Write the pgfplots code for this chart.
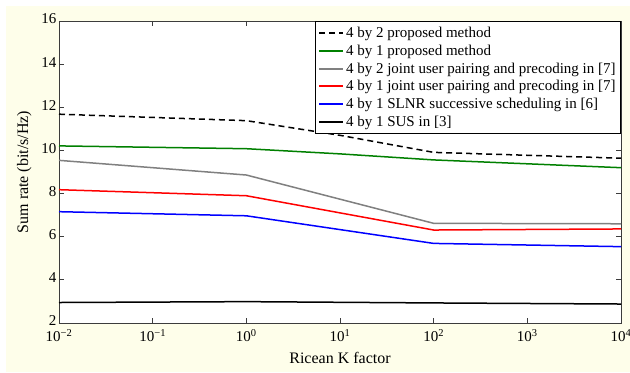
\documentclass[border=0pt]{standalone}
\usepackage{pgfplots}
\pgfplotsset{compat=1.18}
\usepackage{fontspec}
\setmainfont{Liberation Serif}
\definecolor{cream}{RGB}{254,254,234}
\definecolor{mgreen}{RGB}{0,128,0}
\definecolor{mgray}{RGB}{128,128,128}
\definecolor{axgray}{RGB}{60,60,60}
\newcommand\tickfont{\fontsize{15bp}{17bp}\selectfont}
\newcommand\labfont{\fontsize{16bp}{18bp}\selectfont}
\newcommand\legfont{\fontsize{15bp}{16bp}\selectfont}
\begin{document}
\begin{tikzpicture}[x=1bp,y=1bp]
\fill[cream] (6,0) rectangle (630,366);
\path[use as bounding box] (0,0) rectangle (630,372);
\begin{axis}[
  at={(59bp,49bp)}, anchor=south west,
  scale only axis, width=562bp, height=302bp,
  xmode=log, xmin=1e-2, xmax=1e4, ymin=2, ymax=16,
  xtick={1e-2,1e-1,1,10,100,1000,10000},
  xticklabels={10\textsuperscript{−2},10\textsuperscript{−1},10\textsuperscript{0},10\textsuperscript{1},10\textsuperscript{2},10\textsuperscript{3},10\textsuperscript{4}},
  xminorticks=false,
  ytick={2,4,...,16},
  /pgf/number format/assume math mode=true,
  tick align=inside, major tick length=5bp,
  tick style={axgray, line width=0.8bp},
  axis line style={axgray, line width=0.9bp},
  axis background/.style={fill=white},
  ticklabel style={font=\tickfont},
  xticklabel style={yshift=-3bp},
  yticklabel style={xshift=1bp, yshift=2bp},
  label style={font=\labfont},
  xlabel={Ricean K factor},
  ylabel={Sum rate (bit/s/Hz)},
  xlabel style={yshift=-4bp},
  ylabel style={yshift=3bp},
  legend style={at={(1,1)}, anchor=north east, draw=black, line width=0.8bp, fill=white,
    font=\legfont, inner xsep=3bp, inner ysep=4bp, row sep=1.8bp, cells={anchor=west}},
  legend cell align=left,
  legend image code/.code={\draw[#1, line width=2bp] (0bp,0bp) -- (24bp,0bp);},
  every axis plot/.append style={line width=1.5bp},
]
\addplot[black, dash pattern=on 6bp off 4bp] coordinates {(0.01,11.68) (1,11.38) (10,10.7) (100,9.91) (10000,9.64)};
\addlegendentry{4 by 2 proposed method}
\addplot[mgreen] coordinates {(0.01,10.21) (1,10.08) (10,9.84) (100,9.56) (10000,9.2)};
\addlegendentry{4 by 1 proposed method}
\addplot[mgray] coordinates {(0.01,9.54) (1,8.86) (100,6.62) (10000,6.6)};
\addlegendentry{4 by 2 joint user pairing and precoding in [7]}
\addplot[red] coordinates {(0.01,8.18) (1,7.9) (100,6.31) (10000,6.36)};
\addlegendentry{4 by 1 joint user pairing and precoding in [7]}
\addplot[blue] coordinates {(0.01,7.16) (1,6.97) (100,5.69) (10000,5.54)};
\addlegendentry{4 by 1 SLNR successive scheduling in [6]}
\addplot[black] coordinates {(0.01,2.95) (1,2.99) (100,2.93) (10000,2.88)};
\addlegendentry{4 by 1 SUS in [3]}
\end{axis}
\end{tikzpicture}
\end{document}
